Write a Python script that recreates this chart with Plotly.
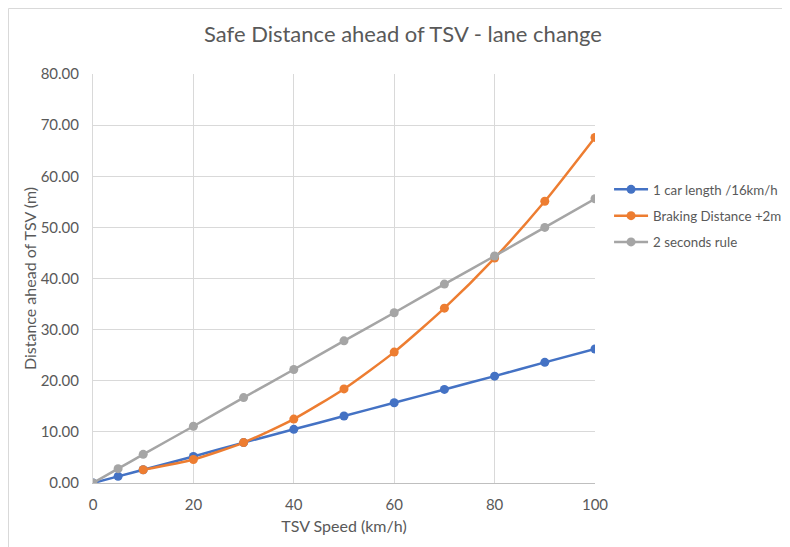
import plotly.graph_objects as go

speed_car = [0, 5, 10, 20, 30, 40, 50, 60, 70, 80, 90, 100]
car_length = [0, 1.3, 2.6, 5.2, 7.9, 10.5, 13.1, 15.7, 18.3, 20.9, 23.6, 26.2]

speed_brake = [10, 20, 30, 40, 50, 60, 70, 80, 90, 100]
braking = [2.6, 4.6, 7.9, 12.5, 18.4, 25.6, 34.2, 44.0, 55.1, 67.6]

speed_rule = [0, 5, 10, 20, 30, 40, 50, 60, 70, 80, 90, 100]
two_sec = [0, 2.8, 5.6, 11.1, 16.7, 22.2, 27.8, 33.3, 38.9, 44.4, 50.0, 55.6]

y_ticks = [0, 10, 20, 30, 40, 50, 60, 70, 80]
x_ticks = [0, 20, 40, 60, 80, 100]

font = "Lato, 'Open Sans', sans-serif"
txt = "#595959"

fig = go.Figure()
series = [
    (speed_car, car_length, "1 car length /16km/h", "#4472C4"),
    (speed_brake, braking, "Braking Distance +2m", "#ED7D31"),
    (speed_rule, two_sec, "2 seconds rule", "#A5A5A5"),
]
for xs, ys, name, col in series:
    fig.add_trace(go.Scatter(
        x=xs, y=ys, name=name, mode="lines+markers", legendgroup=name,
        line=dict(color=col, width=2.5, shape="spline", smoothing=0.6),
        marker=dict(color=col, size=9),
    ))

fig.update_layout(
    width=790, height=547,
    paper_bgcolor="white", plot_bgcolor="white",
    margin=dict(l=85, r=203, t=66, b=72, autoexpand=False),
    font=dict(family=font, color=txt, size=15),
    title=dict(text="Safe Distance ahead of TSV - lane change", x=0.5, xanchor="center",
               y=0.952, yanchor="middle", font=dict(size=22, color=txt, family=font)),
    legend=dict(x=1.028, y=0.755, xanchor="left", yanchor="top",
                font=dict(size=13.3, color=txt), tracegroupgap=6,
                itemwidth=34, bgcolor="rgba(0,0,0,0)"),
    showlegend=True,
)
fig.update_xaxes(
    range=[0, 100], tickvals=x_ticks, showgrid=True, gridcolor="#D9D9D9", gridwidth=1,
    zeroline=False, showline=True, linecolor="#BFBFBF",
    ticklabelstandoff=8,
    title=dict(text="TSV Speed (km/h)", font=dict(size=16, color=txt), standoff=8),
    tickfont=dict(size=15, color=txt),
)
fig.update_yaxes(
    range=[0, 80], tickvals=y_ticks, ticktext=[f"{v:.2f}" for v in y_ticks],
    showgrid=True, gridcolor="#D9D9D9", gridwidth=1, zeroline=False,
    showline=True, linecolor="#D9D9D9",
    ticklabelstandoff=10,
    title=dict(text="Distance ahead of TSV (m)", font=dict(size=16, color=txt), standoff=0),
    tickfont=dict(size=15, color=txt),
)
fig.add_shape(type="line", xref="paper", yref="paper",
              x0=-84.5/502, x1=-84.5/502, y0=-72/409, y1=(409+65.5)/409,
              line=dict(color="#D9D9D9", width=1))
fig.add_shape(type="line", xref="paper", yref="paper",
              x0=-84.5/502, x1=(790-85)/502, y0=(409+65.5)/409, y1=(409+65.5)/409,
              line=dict(color="#D9D9D9", width=1))
fig.write_html("out.html")
